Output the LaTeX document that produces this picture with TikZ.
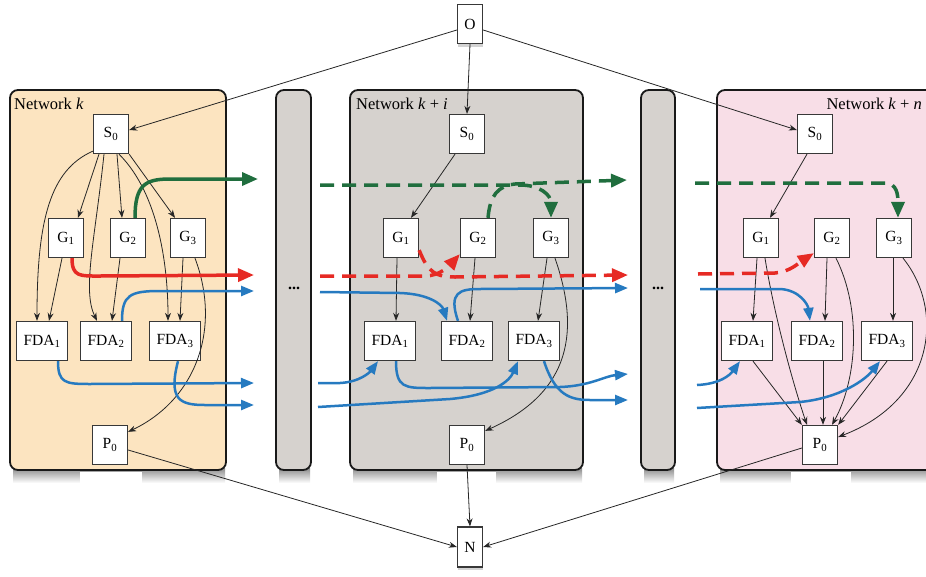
\documentclass[tikz,border=0pt]{standalone}
\usepackage{fontspec}
\setmainfont{Liberation Serif}
\usetikzlibrary{arrows.meta,shadows}
\definecolor{gcol}{RGB}{32,110,62}
\definecolor{rcol}{RGB}{230,42,36}
\definecolor{bcol}{RGB}{38,122,192}
\definecolor{pk}{RGB}{252,228,192}
\definecolor{pgray}{RGB}{214,210,206}
\definecolor{ppink}{RGB}{248,222,231}
\newcommand{\mysub}[1]{\textsubscript{#1}}
\begin{document}
\begin{tikzpicture}[x=1pt,y=-1pt,
  nbox/.style={draw=black!78, fill=white, line width=1.3pt, minimum width=35pt, minimum height=39pt, inner sep=0pt, font=\fontsize{15.5}{17}\selectfont},
  fbox/.style={nbox, minimum width=51pt},
  tbox/.style={nbox, minimum width=25pt, minimum height=39pt, drop shadow={opacity=0.35, shadow xshift=0pt, shadow yshift=-3pt}},
  conn/.style={draw=black!85, line width=0.8pt, -{Stealth[length=8pt,width=6pt]}},
  panel/.style={draw=black!90, line width=1.8pt, rounded corners=8pt},
  garrow/.style={draw=gcol, line width=3.5pt, -{Triangle[length=16pt,width=13pt]}},
  rarrow/.style={draw=rcol, line width=3.5pt, -{Triangle[length=16pt,width=13pt]}},
  barrow/.style={draw=bcol, line width=2.5pt, -{Triangle[length=13pt,width=10pt]}},
  dsh/.style={dash pattern=on 14pt off 8pt},
  lbl/.style={font=\fontsize{16.5}{18}\selectfont, inner sep=0pt},
  dots/.style={font=\fontsize{16}{18}\selectfont\bfseries, inner sep=0pt}]
\useasboundingbox (0,0) rectangle (926,576);
% shadows of panels
\foreach \a/\b in {10/226, 276/311, 350/583, 641/675, 717/940} {
  \shade[top color=black!45, bottom color=white] (\a+3,468) rectangle (\b-1,483);
}
\fill[white] (80,472) rectangle (142,485);
\fill[white] (437,472) rectangle (496,485);
\fill[white] (791,472) rectangle (851,485);
% panels
\draw[panel, fill=pk] (10,90) rectangle (226,470);
\draw[panel, fill=pgray] (276,90) rectangle (311,470);
\draw[panel, fill=pgray] (350,90) rectangle (583,470);
\draw[panel, fill=pgray] (641,90) rectangle (675,470);
\draw[panel, fill=ppink] (717,90) rectangle (940,470);
\node[dots] (d1) at (294,288) {...};
\node[dots] (d2) at (658,288) {...};
\node[lbl, anchor=west] (Lk) at (14,104) {Network \textit{k}};
\node[lbl, anchor=west] (Li) at (356,104) {Network \textit{k} + \textit{i}};
\node[lbl, anchor=east] (Ln) at (922,104) {Network \textit{k} + \textit{n}};
% top / bottom nodes
\node[tbox] (O) at (470,24) {O};
\node[tbox, minimum height=40pt] (N) at (470,547) {N};
% network k
\node[nbox] (S0k) at (111,134) {S\mysub{0}};
\node[nbox] (G1k) at (66,238) {G\mysub{1}};
\node[nbox] (G2k) at (128,238) {G\mysub{2}};
\node[nbox] (G3k) at (188,238) {G\mysub{3}};
\node[fbox] (F1k) at (42,341) {FDA\mysub{1}};
\node[fbox] (F2k) at (106,341) {FDA\mysub{2}};
\node[fbox] (F3k) at (175,341) {FDA\mysub{3}};
\node[nbox] (P0k) at (110,445) {P\mysub{0}};
% network k+i
\node[nbox] (S0i) at (467,134) {S\mysub{0}};
\node[nbox] (G1i) at (401,238) {G\mysub{1}};
\node[nbox] (G2i) at (478,238) {G\mysub{2}};
\node[nbox] (G3i) at (551,238) {G\mysub{3}};
\node[fbox] (F1i) at (390,341) {FDA\mysub{1}};
\node[fbox] (F2i) at (467,341) {FDA\mysub{2}};
\node[fbox] (F3i) at (534,341) {FDA\mysub{3}};
\node[nbox] (P0i) at (467,445) {P\mysub{0}};
% network k+n
\node[nbox] (S0n) at (815,134) {S\mysub{0}};
\node[nbox] (G1n) at (761,238) {G\mysub{1}};
\node[nbox] (G2n) at (832,238) {G\mysub{2}};
\node[nbox] (G3n) at (894,238) {G\mysub{3}};
\node[fbox] (F1n) at (747,341) {FDA\mysub{1}};
\node[fbox] (F2n) at (817,341) {FDA\mysub{2}};
\node[fbox] (F3n) at (887,341) {FDA\mysub{3}};
\node[nbox] (P0n) at (820,445) {P\mysub{0}};
% free ends
\coordinate (gkout) at (258,179);
\coordinate (rkout) at (254,275);
\coordinate (bk1out) at (254,291);
\coordinate (bk2out) at (254,383);
\coordinate (bk3out) at (254,405);
\coordinate (giin) at (320,185);
\coordinate (riin) at (320,276);
\coordinate (bi1in) at (320,292);
\coordinate (bi2in) at (318,383);
\coordinate (bi3in) at (318,407);
\coordinate (giout) at (627,180);
\coordinate (riout) at (628,275);
\coordinate (bi1out) at (628,288);
\coordinate (bi2out) at (628,374);
\coordinate (bi3out) at (628,400);
\coordinate (gnin) at (695,183);
\coordinate (rnin) at (698,274);
\coordinate (bn1in) at (700,289);
\coordinate (bn2in) at (697,385);
\coordinate (bn3in) at (697,408);
% O and N connections
\draw[conn] ([yshift=-6]O.west) -- ([yshift=4]S0k.east);
\draw[conn] (O.south) -- (S0i.north);
\draw[conn] ([yshift=-6]O.east) -- ([yshift=4]S0n.west);
\draw[conn] ([yshift=-5]P0k.east) -- (N.west);
\draw[conn] (P0i.south) -- (N.north);
\draw[conn] ([yshift=-3]P0n.west) -- (N.east);
% network k black
\draw[conn] ([xshift=-12]S0k.south) -- ([xshift=12]G1k.north);
\draw[conn] ([xshift=6]S0k.south) -- ([xshift=-6]G2k.north);
\draw[conn] (S0k.south east) -- ([xshift=-13]G3k.north);
\draw[conn] ([yshift=3]S0k.south west) .. controls (50,170) and (37,220) .. ([xshift=-5]F1k.north);
\draw[conn] ([xshift=-7]S0k.south) .. controls (95,240) and (82,290) .. ([xshift=-9]F2k.north);
\draw[conn] ([xshift=8]S0k.south) .. controls (160,195) and (168,270) .. ([xshift=-7]F3k.north);
\draw[conn] ([xshift=-4]G1k.south) -- ([xshift=7]F1k.north);
\draw[conn] ([xshift=-8]G2k.south) -- ([xshift=6]F2k.north);
\draw[conn] ([xshift=-5]G3k.south) -- ([xshift=5]F3k.north);
\draw[conn] ([xshift=7]G3k.south) .. controls (222,330) and (195,400) .. ([yshift=-7]P0k.north east);
% network k colored
\draw[rarrow] ([xshift=6]G1k.south) .. controls (72,277) and (80,276) .. (100,276) -- (rkout);
\draw[garrow] ([xshift=7]G2k.north) .. controls (135,185) and (145,179) .. (170,179) -- (gkout);
\draw[barrow] ([xshift=16]F2k.north) .. controls (122,295) and (130,291) .. (160,291) -- (bk1out);
\draw[barrow] ([xshift=16]F1k.south) .. controls (58,383) and (65,384) .. (90,384) -- (bk2out);
\draw[barrow] ([xshift=3]F3k.south) .. controls (168,400) and (180,405) .. (205,405) -- (bk3out);
% network k+i black
\draw[conn] ([xshift=-12]S0i.south) -- ([xshift=10]G1i.north);
\draw[conn] ([xshift=-4]G1i.south) -- ([xshift=6]F1i.north);
\draw[conn] ([xshift=-3]G2i.south) -- ([xshift=3]F2i.north);
\draw[conn] ([xshift=-4]G3i.south) -- ([xshift=4]F3i.north);
\draw[conn] ([xshift=4]G3i.south) .. controls (580,330) and (572,392) .. ([yshift=-6]P0i.north east);
% network k+i colored
\draw[garrow, dsh] (giin) -- (520,185) .. controls (540,185) and (551,195) .. (G3i.north);
\draw[garrow, dsh] ([xshift=10]G2i.north) .. controls (490,195) and (498,186) .. (515,184) -- (giout);
\draw[rarrow, dsh] (riin) -- (425,276) .. controls (440,276) and (450,265) .. ([yshift=4]G2i.south west);
\draw[rarrow, dsh] ([yshift=8]G1i.south east) .. controls (428,272) and (435,277) .. (455,277) -- (riout);
\draw[barrow] (bi1in) -- (400,293) .. controls (430,294) and (442,305) .. ([xshift=-20]F2i.north);
\draw[barrow] ([xshift=-9]F2i.north) .. controls (448,292) and (460,289) .. (480,289) -- (bi1out);
\draw[barrow] (bi2in) -- (340,383) .. controls (360,382) and (370,372) .. ([xshift=-12]F1i.south);
\draw[barrow] (bi3in) -- (450,399) .. controls (495,395) and (510,380) .. ([xshift=-16]F3i.south);
\draw[barrow] ([xshift=6]F1i.south) .. controls (396,388) and (405,388) .. (430,388) -- (560,387) .. controls (590,386) and (605,376) .. (bi2out);
\draw[barrow] ([xshift=10]F3i.south) .. controls (555,395) and (570,400) .. (590,400) -- (bi3out);
% network k+n black
\draw[conn] ([xshift=-8]S0n.south) -- ([xshift=9]G1n.north);
\draw[conn] ([xshift=-4]G1n.south) -- ([xshift=6]F1n.north);
\draw[conn] ([xshift=4]G1n.south) .. controls (775,320) and (795,390) .. ([xshift=-13]P0n.north);
\draw[conn] ([xshift=-5]G2n.south) -- ([xshift=8]F2n.north);
\draw[conn] ([xshift=4]G2n.south) .. controls (862,310) and (857,380) .. ([xshift=12]P0n.north);
\draw[conn] ([xshift=-1]G3n.south) -- ([xshift=6]F3n.north);
\draw[conn] ([xshift=9]G3n.south) .. controls (945,310) and (935,400) .. ([yshift=8]P0n.east);
\draw[conn] ([xshift=6]F1n.south) -- (P0n.north west);
\draw[conn] ([xshift=6]F2n.south) -- ([xshift=3]P0n.north);
\draw[conn] (F3n.south) -- (P0n.north east);
% network k+n colored
\draw[garrow, dsh] (gnin) -- (885,183) .. controls (897,183) and (898,195) .. ([xshift=4]G3n.north);
\draw[rarrow, dsh] (rnin) -- (775,273) .. controls (790,272) and (800,262) .. ([yshift=5]G2n.south west);
\draw[barrow] (bn1in) -- (780,289) .. controls (800,290) and (808,305) .. ([xshift=-7]F2n.north);
\draw[barrow] (bn2in) .. controls (720,384) and (730,375) .. ([xshift=-7]F1n.south);
\draw[barrow] (bn3in) -- (800,402) .. controls (840,398) and (865,380) .. ([xshift=-7]F3n.south);
\end{tikzpicture}
\end{document}
